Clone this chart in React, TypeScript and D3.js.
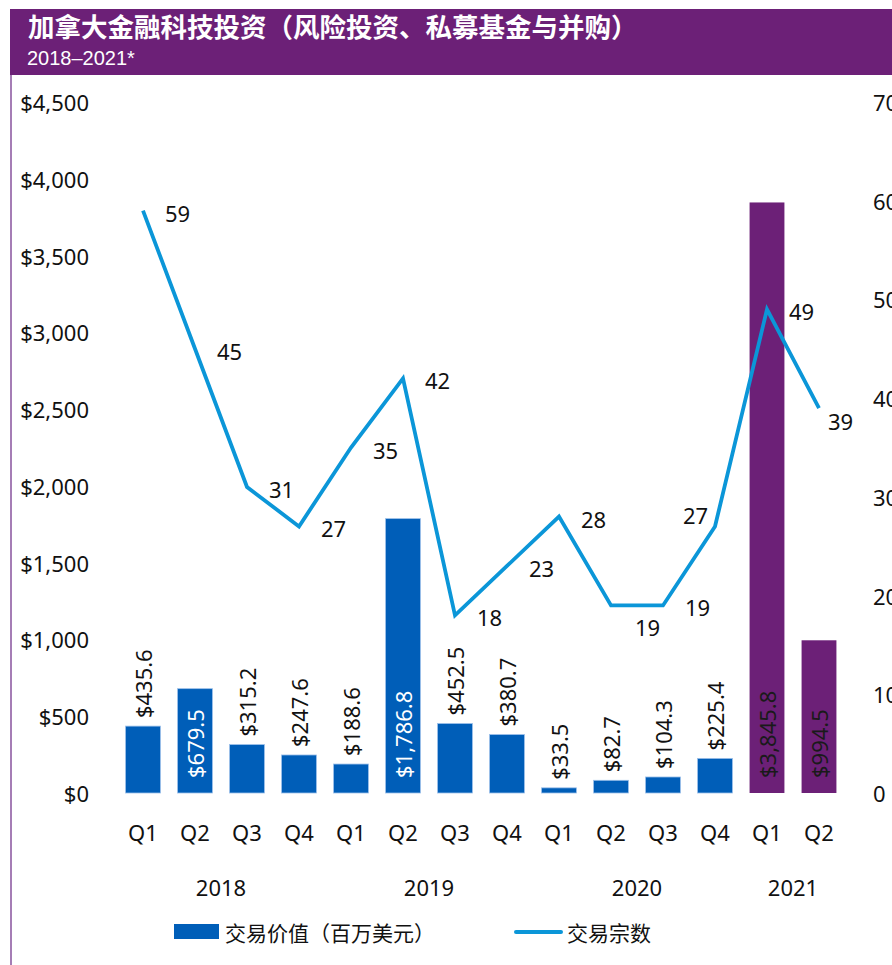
import React from "react";
import * as d3 from "d3";

const quarters = ["Q1", "Q2", "Q3", "Q4", "Q1", "Q2", "Q3", "Q4", "Q1", "Q2", "Q3", "Q4", "Q1", "Q2"];
const years = ["2018", "2019", "2020", "2021"];
const yearOfBar = [0, 0, 0, 0, 1, 1, 1, 1, 2, 2, 2, 2, 3, 3];
const dealValues = [435.6, 679.5, 315.2, 247.6, 188.6, 1786.8, 452.5, 380.7, 33.5, 82.7, 104.3, 225.4, 3845.8, 994.5];
const dealCounts = [59, 45, 31, 27, 35, 42, 18, 23, 28, 19, 19, 27, 49, 39];
const leftTicks = [0, 500, 1000, 1500, 2000, 2500, 3000, 3500, 4000, 4500];
const rightTicks = [0, 10, 20, 30, 40, 50, 60, 70];

const title = "加拿大金融科技投资（风险投资、私募基金与并购）";
const subtitle = "2018–2021*";
const legendValue = "交易价值（百万美元）";
const legendCount = "交易宗数";

const BLUE = "#005eb8";
const PURPLE = "#6c2077";
const LINE = "#0b96d8";
const FONT = "'Noto Sans', 'Noto Sans CJK SC', sans-serif";
const CJK = "'Noto Sans CJK SC', 'Noto Sans', sans-serif";

export default function App() {
  const W = 892;
  const H = 965;
  const idx = quarters.map((_, i) => String(i));
  const x = d3.scaleBand<string>().domain(idx).range([117, 845]).paddingInner(0.33).paddingOuter(0.165);
  const yL = d3.scaleLinear().domain([0, 4500]).range([793, 102]);
  const yR = d3.scaleLinear().domain([0, 70]).range([793, 102]);
  const cx = (i: number) => (x(String(i)) as number) + x.bandwidth() / 2;

  const line = d3
    .line<number>()
    .x((_, i) => cx(i))
    .y((d) => yR(d));

  const isInside = (i: number) => i === 1 || i === 5 || i === 12 || i === 13;
  const barColor = (i: number) => (yearOfBar[i] === 3 ? PURPLE : BLUE);

  const countLabelPos = (i: number) => {
    const px = cx(i);
    const py = yR(dealCounts[i]);
    if (i === 9) return { x: px + 24, y: py + 22 };
    if (i === 11) return { x: px - 32, y: py - 11 };
    if (i === 13) return { x: px + 9, y: py + 13 };
    return { x: px + 22, y: py + 2 };
  };

  const yearCenters = years.map((_, yi) => {
    const inds = yearOfBar.map((v, i) => (v === yi ? i : -1)).filter((v) => v >= 0);
    return (cx(inds[0]) + cx(inds[inds.length - 1])) / 2;
  });

  return (
    <svg
      width={W}
      height={H}
      style={{ position: "absolute", left: 0, top: 0, display: "block", background: "#fff" }}
    >
      {/* header */}
      <rect x={10} y={9} width={W - 10} height={66} fill={PURPLE} />
      <text x={28} y={37} fill="#fff" fontFamily={CJK} fontWeight={700} fontSize={26.5}>
        {title}
      </text>
      <text x={27} y={65} fill="#fff" fontFamily="'Liberation Sans', Arial, sans-serif" fontSize={20}>
        {subtitle}
      </text>
      <line x1={11} x2={11} y1={75} y2={H} stroke="#a57db5" strokeWidth={2} />

      {/* left axis */}
      {leftTicks.map((t) => (
        <text
          key={"l" + t}
          x={89}
          y={yL(t)}
          textAnchor="end"
          dominantBaseline="central"
          fontFamily={FONT}
          fontSize={22}
          fill="#111"
        >
          {"$" + d3.format(",")(t)}
        </text>
      ))}
      {/* right axis */}
      {rightTicks.map((t) => (
        <text
          key={"r" + t}
          x={873}
          y={yR(t)}
          textAnchor="start"
          dominantBaseline="central"
          fontFamily={FONT}
          fontSize={22}
          fill="#111"
        >
          {t}
        </text>
      ))}

      {/* bars */}
      {dealValues.map((v, i) => (
        <rect
          key={"b" + i}
          x={x(String(i))}
          y={yL(v)}
          width={x.bandwidth()}
          height={yL(0) - yL(v)}
          fill={barColor(i)}
          stroke={yearOfBar[i] === 3 ? "none" : "#9cc0ea"}
          strokeWidth={0.8}
        />
      ))}

      {/* bar labels */}
      {dealValues.map((v, i) => {
        const inside = isInside(i);
        const ty = inside ? yL(0) - 15 : yL(v) - 8;
        const fill = inside ? (yearOfBar[i] === 3 ? "#1a1a1a" : "#ffffff") : "#111";
        return (
          <text
            key={"bl" + i}
            transform={`translate(${cx(i)},${ty}) rotate(-90)`}
            textAnchor="start"
            dominantBaseline="central"
            fontFamily={FONT}
            fontSize={22}
            fill={fill}
          >
            {"$" + d3.format(",.1f")(v)}
          </text>
        );
      })}

      {/* line */}
      <path d={line(dealCounts) || ""} fill="none" stroke={LINE} strokeWidth={3.8} strokeLinejoin="miter" />
      {dealCounts.map((c, i) => {
        const p = countLabelPos(i);
        return (
          <text
            key={"cl" + i}
            x={p.x}
            y={p.y}
            dominantBaseline="central"
            fontFamily={FONT}
            fontSize={22}
            fill="#111"
          >
            {c}
          </text>
        );
      })}

      {/* x axis labels */}
      {quarters.map((q, i) => (
        <text
          key={"q" + i}
          x={cx(i)}
          y={832}
          textAnchor="middle"
          dominantBaseline="central"
          fontFamily={FONT}
          fontSize={22}
          fill="#111"
        >
          {q}
        </text>
      ))}
      {years.map((yv, yi) => (
        <text
          key={"y" + yv}
          x={yearCenters[yi]}
          y={887}
          textAnchor="middle"
          dominantBaseline="central"
          fontFamily={FONT}
          fontSize={22}
          fill="#111"
        >
          {yv}
        </text>
      ))}

      {/* legend */}
      <rect x={174} y={924} width={45} height={15} fill={BLUE} />
      <text x={225} y={932} dominantBaseline="central" fontFamily={CJK} fontSize={21} fill="#111">
        {legendValue}
      </text>
      <line x1={516} x2={561} y1={932} y2={932} stroke={LINE} strokeWidth={4} strokeLinecap="round" />
      <text x={567} y={932} dominantBaseline="central" fontFamily={CJK} fontSize={21} fill="#111">
        {legendCount}
      </text>
    </svg>
  );
}
